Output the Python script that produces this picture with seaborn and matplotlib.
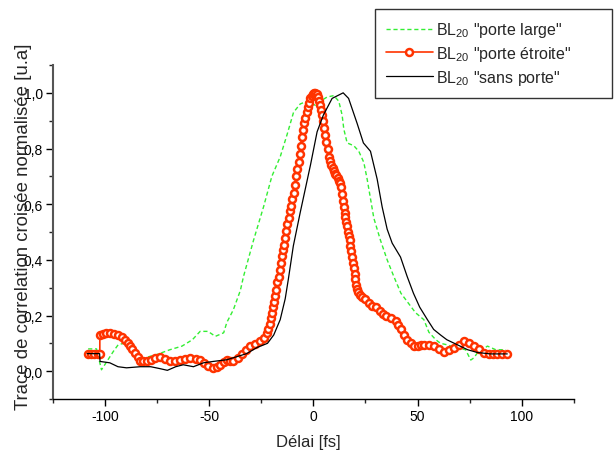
import matplotlib
matplotlib.use("Agg")
import matplotlib.pyplot as plt
from matplotlib.ticker import FixedLocator, FixedFormatter, MultipleLocator
import pandas as pd
import seaborn as sns

# --- data ------------------------------------------------------------------
large_x = [-108, -104, -101.6, -99, -96, -93.6, -91, -88, -85, -82, -80.8, -75,
           -68.8, -63, -58, -54.3, -50.5, -47, -43, -41.5, -38.4, -35, -33.5,
           -28.7, -23.9, -19.9, -15.9, -12.6, -9.5, -6.3, -3, 1, 3.4, 6.6, 9.8,
           12.2, 13.8, 14.6, 16.2, 19.4, 21.8, 24.2, 25.8, 27.4, 29, 32.2, 35.4,
           38.6, 42, 46, 49, 53, 55.4, 58.7, 61, 64, 68, 73, 75.5, 77, 78.7,
           83.5, 87.5, 92.3]
large_y = [0.08, 0.08, 0.005, 0.035, 0.07, 0.095, 0.10, 0.08, 0.06, 0.04, 0.048,
           0.06, 0.077, 0.09, 0.113, 0.143, 0.143, 0.125, 0.138, 0.175, 0.22,
           0.29, 0.34, 0.47, 0.59, 0.70, 0.77, 0.85, 0.93, 0.96, 0.97, 0.955,
           0.97, 0.985, 0.99, 0.97, 0.92, 0.87, 0.82, 0.81, 0.79, 0.75, 0.69,
           0.62, 0.55, 0.47, 0.40, 0.34, 0.28, 0.24, 0.21, 0.185, 0.14, 0.113,
           0.10, 0.095, 0.085, 0.077, 0.04, 0.048, 0.066, 0.09, 0.077, 0.077]

etroite_x = [-108, -106.5, -105, -103.5, -102.4, -102.4, -101, -99.5, -97.6,
             -95.5, -93.7, -92, -90.4, -89, -88, -86.8, -85.6, -84.3, -83,
             -81.5, -80, -78, -76, -73.5, -71, -68.8, -66.5, -64, -61.5, -59,
             -56.5, -54.3, -52.3, -50.3, -48, -46.3, -44.7, -43, -41.5, -40,
             -38.3, -36.3, -34.3, -32.3, -30.3, -28, -25.5, -23.8, -22.3,
             -21.6, -21.0, -20.4, -19.9, -19.4, -18.9, -18.3, -17.8, -17.2,
             -16.7, -16.2, -15.7, -15.2, -14.7, -14.2, -13.6, -13.0, -12.4,
             -11.9, -11.3, -10.7, -10.1, -9.5, -8.9, -8.3, -7.7, -7.1, -6.6,
             -6.1, -5.6, -5.0, -4.4, -3.8, -3.2, -2.6, -2.0, -1.4, -0.8, -0.2,
             0.4, 1.0, 1.6, 2.2, 2.7, 3.2, 3.7, 4.2, 4.7, 5.2, 5.8, 6.3, 6.8,
             7.4, 8.0, 8.6, 9.2, 9.8, 10.4, 11.0, 11.6, 12.2, 12.7, 13.2, 13.7,
             14.2, 14.6, 15.0, 15.4, 15.8, 16.2, 16.6, 17.0, 17.4, 17.8, 18.2,
             18.6, 19.0, 19.4, 19.8, 20.2, 20.6, 21.0, 21.6, 22.3, 23.5, 25,
             26.5, 28, 30, 32, 33.5, 35, 37, 39.5, 40.6, 41.8, 43.4, 45, 46.6,
             48.2, 50, 51.5, 53, 55.5, 57.8, 60.2, 62.7, 65, 67.5, 70, 72.3,
             74.5, 77, 79.5, 81.9, 84, 86, 88.3, 90.5, 93]
etroite_y = [0.06, 0.06, 0.06, 0.06, 0.06, 0.13, 0.135, 0.138, 0.137, 0.134,
             0.13, 0.122, 0.113, 0.10, 0.09, 0.078, 0.066, 0.05, 0.035, 0.035,
             0.038, 0.041, 0.046, 0.052, 0.044, 0.035, 0.037, 0.041, 0.045,
             0.048, 0.045, 0.041, 0.03, 0.017, 0.011, 0.015, 0.023, 0.033,
             0.041, 0.038, 0.035, 0.046, 0.06, 0.075, 0.09, 0.098, 0.107, 0.12,
             0.137, 0.15, 0.17, 0.19, 0.21, 0.23, 0.25, 0.27, 0.29, 0.32, 0.34,
             0.365, 0.39, 0.415, 0.435, 0.455, 0.48, 0.505, 0.53, 0.55, 0.575,
             0.595, 0.62, 0.64, 0.67, 0.70, 0.725, 0.75, 0.78, 0.81, 0.84,
             0.865, 0.89, 0.91, 0.93, 0.95, 0.965, 0.98, 0.99, 0.997, 1.0, 1.0,
             0.995, 0.985, 0.97, 0.955, 0.94, 0.92, 0.90, 0.875, 0.85, 0.825,
             0.80, 0.77, 0.755, 0.74, 0.73, 0.72, 0.71, 0.705, 0.695, 0.685,
             0.675, 0.66, 0.635, 0.61, 0.59, 0.57, 0.555, 0.535, 0.52, 0.50,
             0.485, 0.47, 0.45, 0.43, 0.41, 0.39, 0.37, 0.35, 0.33, 0.31, 0.295,
             0.285, 0.275, 0.265, 0.26, 0.245, 0.235, 0.23, 0.215, 0.205, 0.2,
             0.19, 0.18, 0.165, 0.15, 0.13, 0.113, 0.10, 0.09, 0.09, 0.093,
             0.095, 0.093, 0.09, 0.08, 0.07, 0.075, 0.083, 0.095, 0.107, 0.10,
             0.09, 0.078, 0.066, 0.062, 0.06, 0.06, 0.06, 0.06]

sans_x = [-108.5, -102.5, -102.3, -97.6, -93.7, -89.6, -83, -78, -73.5, -70,
          -66, -62.4, -57.5, -52.7, -48, -41.5, -36.7, -32, -27, -22, -19,
          -15.9, -13.5, -12, -9.6, -6.3, -1.4, 1.8, 4.8, 9, 14.3, 16.9, 21, 24,
          27.4, 30.6, 33, 35.4, 37.8, 41.8, 45, 48, 51, 54.7, 57.7, 61, 64, 69,
          74, 78.7, 85, 93]
sans_y = [0.063, 0.063, 0.035, 0.03, 0.016, 0.012, 0.016, 0.016, 0.009, 0.003,
          0.016, 0.023, 0.016, 0.03, 0.035, 0.041, 0.052, 0.063, 0.085, 0.10,
          0.13, 0.185, 0.26, 0.33, 0.45, 0.57, 0.74, 0.86, 0.92, 0.98, 1.0,
          0.98, 0.89, 0.82, 0.79, 0.69, 0.59, 0.51, 0.46, 0.41, 0.34, 0.28,
          0.23, 0.185, 0.15, 0.13, 0.113, 0.095, 0.077, 0.067, 0.062, 0.062]

labels = ['BL$_{20}$ "porte large"', 'BL$_{20}$ "porte étroite"',
          'BL$_{20}$ "sans porte"']
xtick_values = [-100, -50, 0, 50, 100]
xtick_labels = ["-100", "-50", "0", "50", "100"]
ytick_values = [0.0, 0.2, 0.4, 0.6, 0.8, 1.0]
ytick_labels = ["0,0", "0,2", "0,4", "0,6", "0,8", "1,0"]

GREEN = "#33ee33"
RED = "#ff3300"

sns.set_style("ticks")
plt.rcParams["font.family"] = ["Liberation Sans", "DejaVu Sans"]
plt.rcParams["mathtext.fontset"] = "custom"
plt.rcParams["mathtext.rm"] = "Liberation Sans"
plt.rcParams["mathtext.default"] = "regular"

fig = plt.figure(figsize=(6.14, 4.52), dpi=100)
ax = fig.add_axes([52.7 / 614, 52 / 452, (574 - 52.7) / 614, (400 - 66) / 452])

large = pd.DataFrame({"x": large_x, "y": large_y})
etroite = pd.DataFrame({"x": etroite_x, "y": etroite_y})
sans = pd.DataFrame({"x": sans_x, "y": sans_y})

sns.lineplot(data=large, x="x", y="y", ax=ax, sort=False, estimator=None,
             color=GREEN, linewidth=1.0, linestyle=(0, (3, 2)), label=labels[0])
sns.lineplot(data=etroite, x="x", y="y", ax=ax, sort=False, estimator=None,
             color=RED, linewidth=1.2, marker="o", markersize=5,
             markerfacecolor="white", markeredgecolor=RED,
             markeredgewidth=1.8, label=labels[1])
sns.lineplot(data=sans, x="x", y="y", ax=ax, sort=False, estimator=None,
             color="black", linewidth=0.9, label=labels[2])

ax.set_xlim(-125, 125)
ax.set_ylim(-0.1, 1.1)
ax.xaxis.set_major_locator(FixedLocator(xtick_values))
ax.xaxis.set_major_formatter(FixedFormatter(xtick_labels))
ax.xaxis.set_minor_locator(MultipleLocator(25))
ax.yaxis.set_major_locator(FixedLocator(ytick_values))
ax.yaxis.set_major_formatter(FixedFormatter(ytick_labels))
ax.yaxis.set_minor_locator(MultipleLocator(0.1))
ax.tick_params(which="major", direction="out", length=5, width=1,
               labelsize=10, pad=2, colors="black")
ax.tick_params(which="minor", direction="out", length=3, width=1)
sns.despine(ax=ax)
ax.spines["left"].set_color("#555555")
ax.spines["left"].set_linewidth(1.5)
ax.spines["bottom"].set_linewidth(1.0)
ax.spines["bottom"].set_color("black")

ax.set_xlabel("Délai [fs]", fontsize=12)
ax.set_ylabel("Trace de correlation croisée normalisée [u.a]", fontsize=13.4)
ax.xaxis.set_label_coords(0.49, -0.105)
ax.yaxis.set_label_coords(-0.04, 0.52)

leg = ax.legend(loc="upper left",
                bbox_to_anchor=(375 / 614, 1 - 10 / 452, (612 - 375) / 614, 0),
                bbox_transform=fig.transFigure, mode="expand",
                fontsize=11.5, frameon=True, fancybox=False, borderpad=0.7,
                labelspacing=0.3, handlelength=2.9, handletextpad=0.2,
                borderaxespad=0)
leg.get_frame().set_edgecolor("black")
leg.get_frame().set_linewidth(1.0)

fig.savefig("out.png", dpi=100)
